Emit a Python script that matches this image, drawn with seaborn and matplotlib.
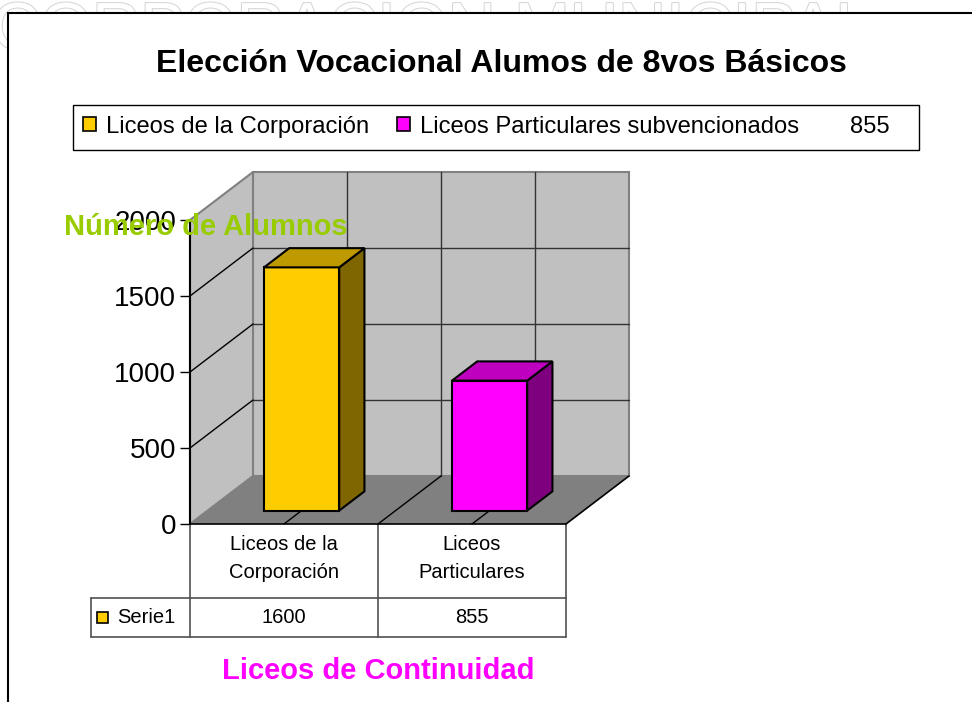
import matplotlib
matplotlib.use("Agg")
import matplotlib.pyplot as plt
import matplotlib.patheffects as pe
from matplotlib.patches import Polygon, Rectangle, Patch
from matplotlib.transforms import Affine2D
import seaborn as sns

# data
categories = ["Liceos de la Corporación", "Liceos Particulares"]
tick_labels = ["Liceos de la\nCorporación", "Liceos\nParticulares"]
legend_labels = ["Liceos de la Corporación", "Liceos Particulares subvencionados"]
alumnos = [1600, 855]
yticks = [0, 500, 1000, 1500, 2000]
series_name = "Serie1"

front_colors = ["#FFCC00", "#FF00FF"]
top_colors = ["#BF9900", "#BF00BF"]
side_colors = ["#7F6600", "#7F007F"]

sns.set_style("white")
plt.rcParams["font.family"] = ["Liberation Sans", "DejaVu Sans"]
plt.rcParams["text.color"] = "black"
plt.rcParams["xtick.color"] = "black"
plt.rcParams["ytick.color"] = "black"
plt.rcParams["axes.labelcolor"] = "black"

W, H = 972, 702
fig = plt.figure(figsize=(W / 100, H / 100), dpi=100)
fig.patch.set_facecolor("white")


def fx(px):
    return px / W


def fy(py):
    return 1 - py / H


# watermark behind the chart area
fig.text(fx(-8), fy(1), "CORPORACION MUNICIPAL", fontsize=48, color="white",
         va="top", ha="left", zorder=-3,
         path_effects=[pe.withStroke(linewidth=1.5, foreground="#d6d6d6")])

# chart area
fig.patches.append(Rectangle((fx(8), fy(720)), fx(1000), fy(13) - fy(720),
                             transform=fig.transFigure, fc="white", ec="black",
                             lw=1.5, zorder=-2))

# front plane of the plot
ax = fig.add_axes([fx(190), fy(524), fx(376), 304 / H])
ax.patch.set_visible(False)

sns.barplot(x=categories, y=alumnos, hue=categories, palette=front_colors,
            saturation=1, width=0.4, edgecolor="black", linewidth=1.5,
            legend=False, ax=ax, zorder=5)
ax.set_xlim(-0.5, 1.5)
ax.set_ylim(0, 2000)

# depth of the pseudo 3d box, in data units
DX = 63 / 188
DY = 48 * 2000 / 304
f0, fd = 0.28, 0.4   # bar position / thickness inside the depth

x_lo, x_hi = ax.get_xlim()
y_top = yticks[-1]

# walls and floor
ax.add_patch(Polygon([(x_lo + DX, DY), (x_hi + DX, DY), (x_hi + DX, y_top + DY),
                      (x_lo + DX, y_top + DY)], fc="#C0C0C0", ec="#808080",
                     lw=1.5, clip_on=False, zorder=1))
ax.add_patch(Polygon([(x_lo, 0), (x_lo + DX, DY), (x_lo + DX, y_top + DY),
                      (x_lo, y_top)], fc="#C0C0C0", ec="#808080", lw=1.5,
                     clip_on=False, zorder=1))
ax.add_patch(Polygon([(x_lo, 0), (x_hi, 0), (x_hi + DX, DY), (x_lo + DX, DY)],
                     fc="#808080", ec="none", clip_on=False, zorder=1.5))
ax.plot([x_hi, x_hi + DX], [0, DY], color="black", lw=1.2, clip_on=False, zorder=2)

# gridlines on the walls and floor
for yv in yticks[1:-1]:
    ax.plot([x_lo + DX, x_hi + DX], [yv + DY, yv + DY], color="#333333", lw=1,
            clip_on=False, zorder=2)
    ax.plot([x_lo, x_lo + DX], [yv, yv + DY], color="black", lw=1,
            clip_on=False, zorder=2)
for xv in [0, 0.5, 1]:
    ax.plot([xv + DX, xv + DX], [DY, y_top + DY], color="#333333", lw=1,
            clip_on=False, zorder=2)
    ax.plot([xv, xv + DX], [0, DY], color="black", lw=1, clip_on=False, zorder=2)

# push the bars into the depth and add their top and side faces
shift = Affine2D().translate(f0 * DX, f0 * DY) + ax.transData
bars = [p for p in ax.patches if p.get_zorder() == 5]
for i, p in enumerate(bars):
    x0, w, h = p.get_x(), p.get_width(), p.get_height()
    p.set_transform(shift)
    p.set_clip_on(False)
    side = Polygon([(x0 + w, 0), (x0 + w, h), (x0 + w + fd * DX, h + fd * DY),
                    (x0 + w + fd * DX, fd * DY)], fc=side_colors[i], ec="black",
                   lw=1.5, transform=shift, clip_on=False, zorder=5)
    top = Polygon([(x0, h), (x0 + w, h), (x0 + w + fd * DX, h + fd * DY),
                   (x0 + fd * DX, h + fd * DY)], fc=top_colors[i], ec="black",
                  lw=1.5, transform=shift, clip_on=False, zorder=5)
    ax.add_patch(side)
    ax.add_patch(top)

# axes styling
for s in ["top", "right"]:
    ax.spines[s].set_visible(False)
ax.spines["left"].set_color("black")
ax.spines["left"].set_linewidth(1.5)
ax.spines["left"].set_zorder(3)
ax.spines["bottom"].set_color("black")
ax.spines["bottom"].set_linewidth(1.2)
ax.set_yticks(yticks)
ax.set_yticklabels([str(v) for v in yticks])
ax.tick_params(axis="y", direction="out", length=7, width=1, labelsize=20,
               pad=3, left=True, color="black")
ax.set_xticks(range(len(tick_labels)))
ax.set_xticklabels(tick_labels, fontsize=14.5, linespacing=1.6)
ax.tick_params(axis="x", length=0, pad=8)
ax.set_xlabel("")
ax.set_ylabel("")
ax.grid(False)

# data table under the plot
tr = ax.get_xaxis_transform()
r1 = (524 - 598) / 304
r2 = (524 - 637) / 304
x_left = x_lo - 99 / 188
tcol = "#505050"
for xv in [x_lo, 0.5, x_hi]:
    ax.plot([xv, xv], [0, r2], color=tcol, lw=1.2, transform=tr, clip_on=False)
ax.plot([x_left, x_hi], [r1, r1], color=tcol, lw=1.2, transform=tr, clip_on=False)
ax.plot([x_left, x_hi], [r2, r2], color=tcol, lw=1.2, transform=tr, clip_on=False)
ax.plot([x_left, x_left], [r1, r2], color=tcol, lw=1.2, transform=tr, clip_on=False)
rmid = (r1 + r2) / 2
for i, v in enumerate(alumnos):
    ax.text(i, rmid, str(v), transform=tr, ha="center", va="center", fontsize=14.5)
ax.add_patch(Rectangle((x_lo - 93 / 188, rmid - 5.5 / 304), 11 / 188, 11 / 304,
                       transform=tr, fc=front_colors[0], ec="black", lw=1.2,
                       clip_on=False))
ax.text(x_lo - 73 / 188, rmid, series_name, transform=tr, ha="left",
        va="center", fontsize=14.5)

# titles
fig.text(fx(501), fy(72), "Elección Vocacional Alumos de 8vos Básicos",
         ha="center", va="baseline", fontsize=23, fontweight="bold")
fig.text(fx(206), fy(235), "Número de Alumnos", ha="center", va="baseline",
         fontsize=21, fontweight="bold", color="#99CC00", zorder=10)
fig.text(fx(378), fy(679), "Liceos de Continuidad", ha="center", va="baseline",
         fontsize=21, fontweight="bold", color="#FF00FF")

# legend, with its box drawn to the reference size
fig.patches.append(Rectangle((fx(73), fy(150)), fx(846), fy(105) - fy(150),
                             transform=fig.transFigure, fc="white", ec="black",
                             lw=1, zorder=2))
handles = [Patch(fc=c, ec="black", lw=1.2) for c in front_colors]
handles.append(Patch(fc="none", ec="none"))
leg = fig.legend(handles, legend_labels + [str(alumnos[1])], ncol=3,
                 loc="upper left", bbox_to_anchor=(fx(72), fy(105)),
                 borderaxespad=0, fontsize=17.1, handlelength=0.55,
                 handleheight=0.55, handletextpad=0.42, columnspacing=1.17,
                 borderpad=0.45, frameon=False)
leg.set_zorder(3)

fig.savefig("out.png", dpi=100)
